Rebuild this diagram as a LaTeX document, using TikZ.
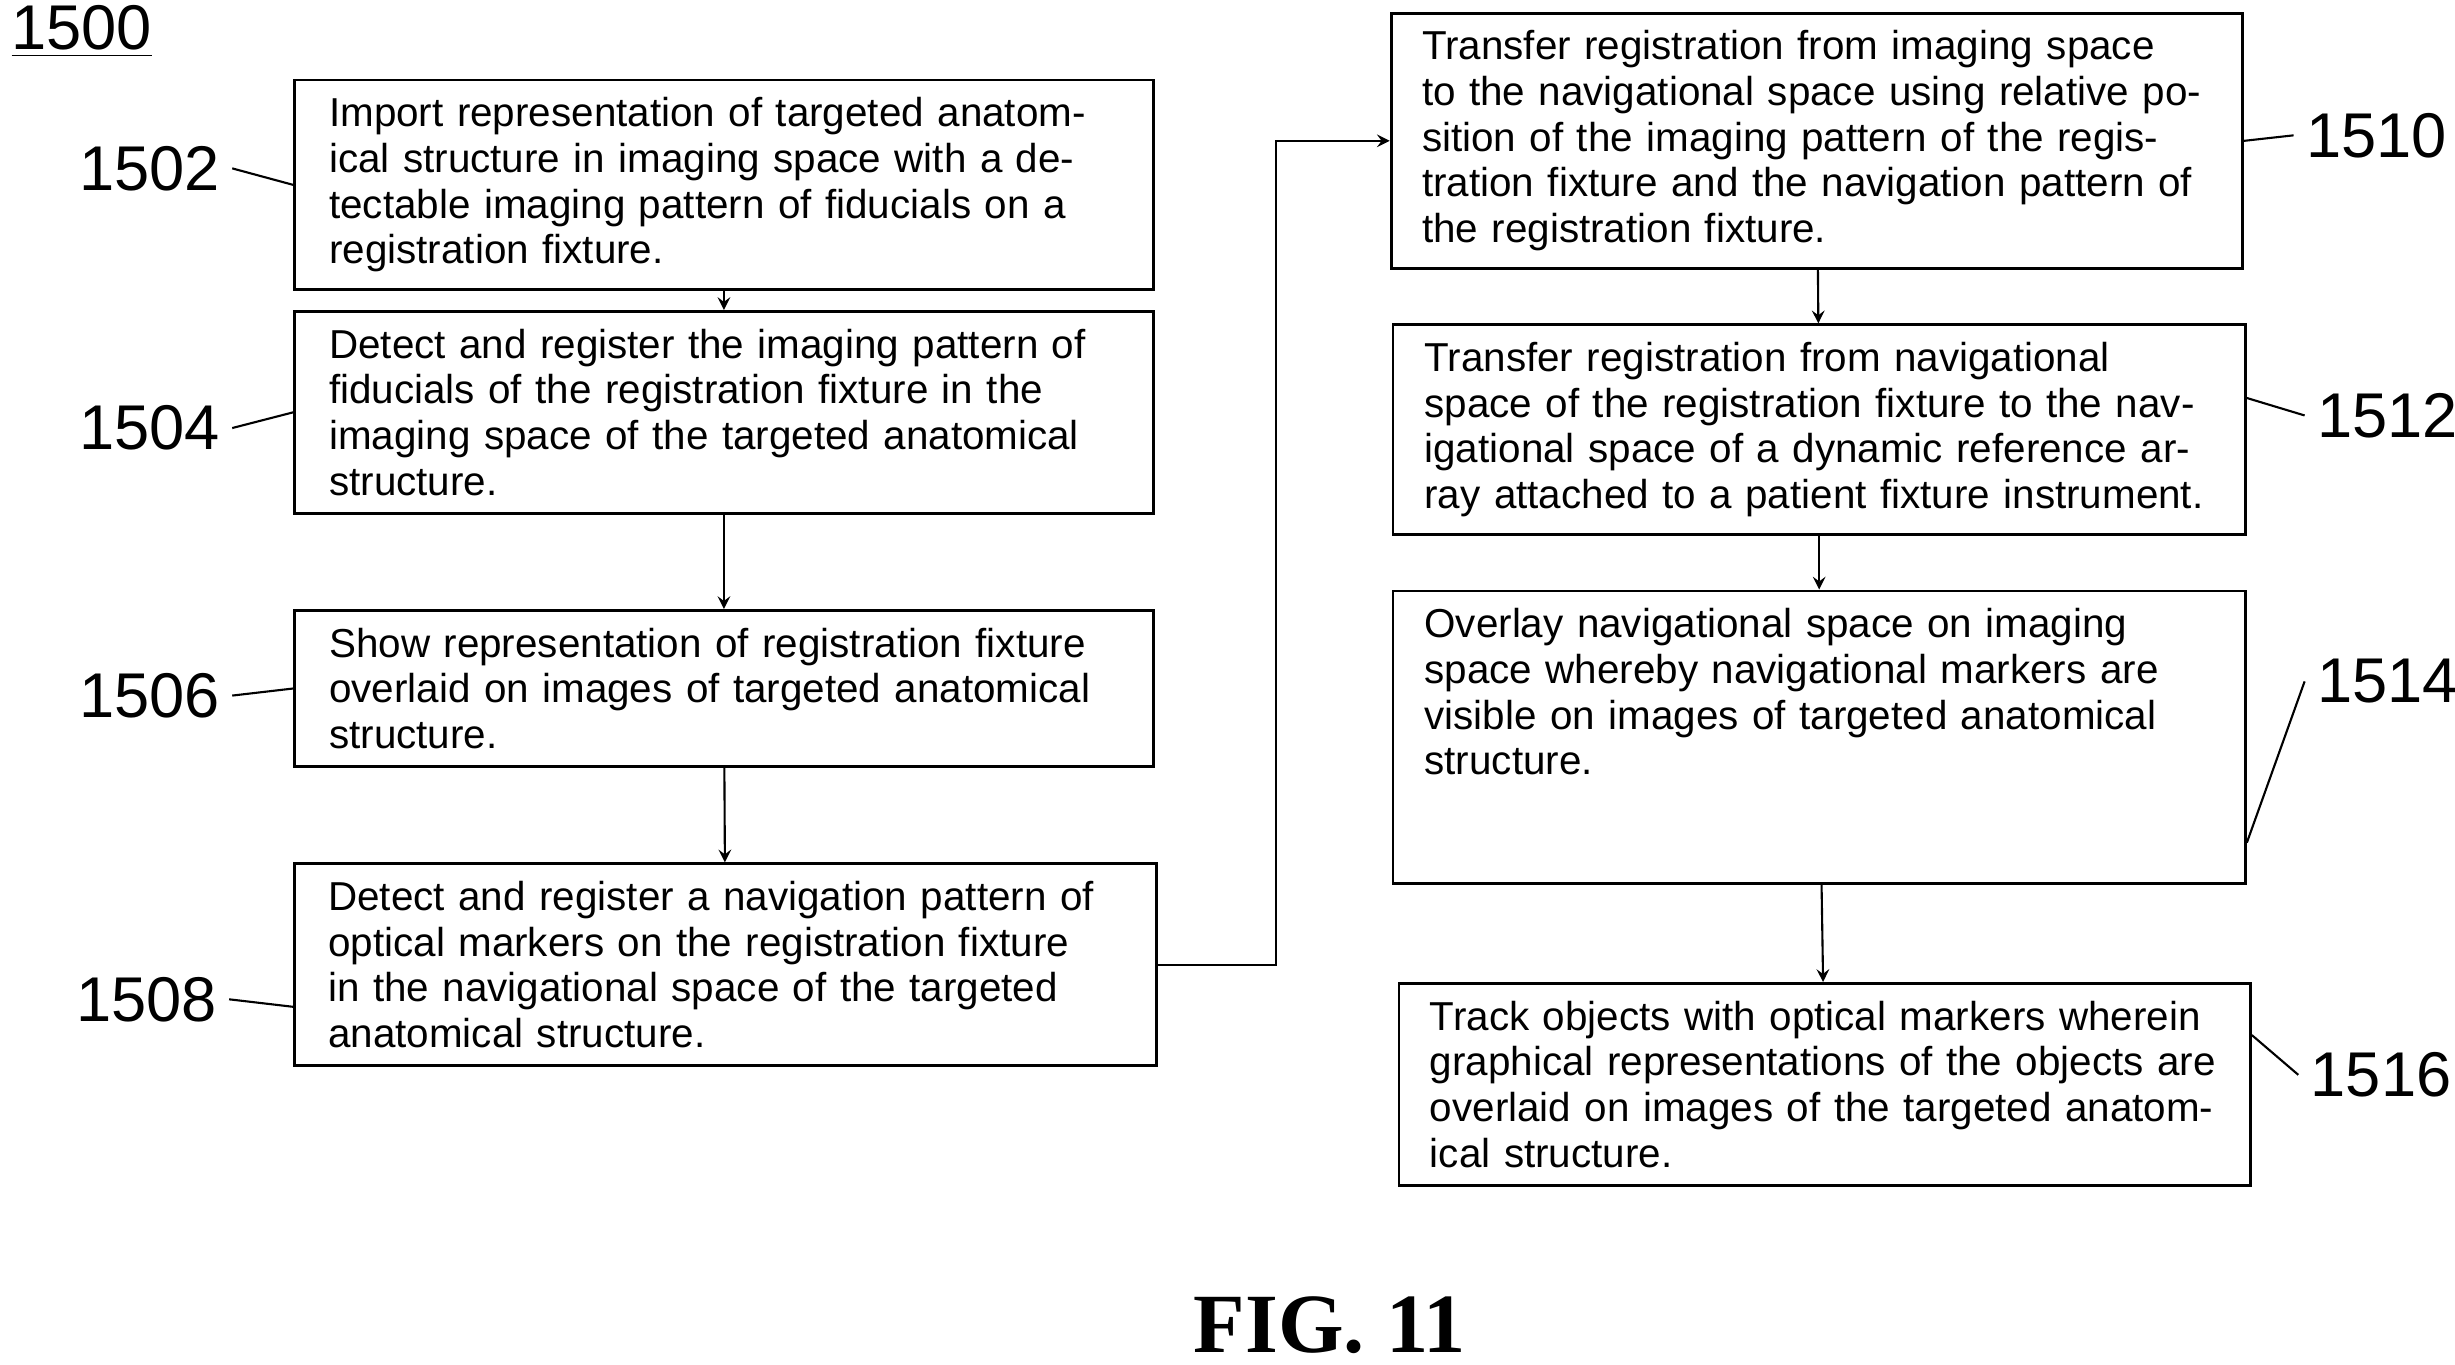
\documentclass[tikz,border=0pt]{standalone}
\usepackage{fontspec}
\setmainfont{Liberation Sans}
\newfontfamily\figfont{Liberation Serif}
\tikzset{
    stepbox/.style={draw, thick, inner sep=5pt, align=left, font=\fontsize{11.5}{13}\selectfont},
    num/.style={font=\fontsize{18}{20}\selectfont},
    flow/.style={->, >=stealth, semithick},
    tie/.style={semithick}
}
\begin{document}
\begin{tikzpicture}[x=0.01574cm, y=-0.01574cm]
    \useasboundingbox (0,0) rectangle (1560,867);
    % title
    \node[num] (fig) at (52,20) {\underline{1500}};
    % left column
    \node[stepbox, text width=7.9cm, minimum width=8.59cm, minimum height=2.0cm] (b1502) at (460,117.5)
        {Import representation of targeted anatomical structure in imaging space with a detectable imaging pattern of fiducials on a registration fixture.};
    \node[stepbox, text width=7.9cm, minimum width=8.59cm, minimum height=1.54cm] (b1504) at (460,262)
        {Detect and register the imaging pattern of fiducials of the registration fixture in the imaging space of the targeted anatomical structure.};
    \node[stepbox, text width=7.9cm, minimum width=8.59cm, minimum height=1.53cm] (b1506) at (460,437.5)
        {Show representation of registration fixture overlaid on images of targeted anatomical structure.};
    \node[stepbox, text width=7.95cm, minimum width=8.62cm, minimum height=2.0cm] (b1508) at (461,613)
        {Detect and register a navigation pattern of optical markers on the registration fixture in the navigational space of the targeted anatomical structure.};
    % right column
    \node[stepbox, text width=7.9cm, minimum width=8.52cm, minimum height=2.12cm] (b1510) at (1154.5,89.5)
        {Transfer registration from imaging space to the navigational space using relative position of the imaging pattern of the registration fixture and the navigation pattern of the registration fixture.};
    \node[stepbox, text width=7.9cm, minimum width=8.53cm, minimum height=2.0cm] (b1512) at (1156,273)
        {Transfer registration from navigational space of the registration fixture to the navigational space of a dynamic reference array attached to a patient fixture instrument.};
    \node[stepbox, text width=7.9cm, minimum width=8.53cm, minimum height=2.25cm] (b1514) at (1156,468.5)
        {Overlay navigational space on imaging space whereby navigational markers are visible on images of targeted anatomical structure.\\ \mbox{}\\ \mbox{}};
    \node[stepbox, text width=7.9cm, minimum width=8.52cm, minimum height=2.0cm] (b1516) at (1159.5,689)
        {Track objects with optical markers wherein graphical representations of the objects are overlaid on images of the targeted anatomical structure.};
    % reference numbers
    \node[num] (n1502) at (95,107) {1502};
    \node[num] (n1504) at (95,272) {1504};
    \node[num] (n1506) at (95,442) {1506};
    \node[num] (n1508) at (93,635) {1508};
    \node[num] (n1510) at (1510,86) {1510};
    \node[num] (n1512) at (1517,264) {1512};
    \node[num] (n1514) at (1517,433) {1514};
    \node[num] (n1516) at (1513,683) {1516};
    \draw[tie] (n1502.east) -- (b1502.west);
    \draw[tie] (n1504.east) -- (b1504.west);
    \draw[tie] (n1506.east) -- (b1506.west);
    \draw[tie] (n1508.east) -- ([yshift=-12]b1508.west);
    \draw[tie] (n1510.west) -- (b1510.east);
    \draw[tie] (n1512.west) -- ([yshift=9]b1512.east);
    \draw[tie] (n1514.west) -- ([yshift=-30]b1514.east);
    \draw[tie] (n1516.west) -- ([yshift=14]b1516.east);
    % flow
    \draw[flow] (b1502) -- (b1504);
    \draw[flow] (b1504) -- (b1506);
    \draw[flow] (b1506) -- (b1508);
    \draw[flow] (b1508.east) -- ++(75,0) |- (b1510.west);
    \draw[flow] (b1510) -- (b1512);
    \draw[flow] (b1512) -- (b1514);
    \draw[flow] (b1514) -- (b1516);
    % caption
    \node[font=\figfont\bfseries\fontsize{24}{26}\selectfont] (cap) at (845,842) {FIG. 11};
\end{tikzpicture}
\end{document}
